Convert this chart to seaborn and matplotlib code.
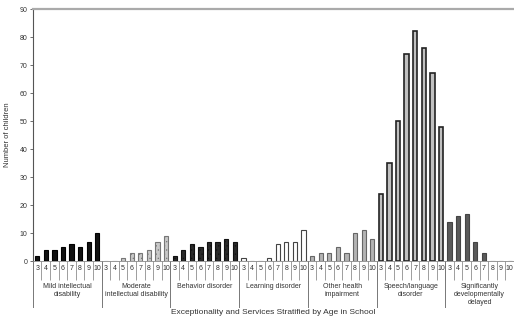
import pandas as pd
import seaborn as sns
import numpy as np
import matplotlib.pyplot as plt
from matplotlib.transforms import blended_transform_factory

ages = [3, 4, 5, 6, 7, 8, 9, 10]
groups = ['Mild intellectual\ndisability',
          'Moderate\nintellectual disability',
          'Behavior disorder',
          'Learning disorder',
          'Other health\nimpairment',
          'Speech/language\ndisorder',
          'Significantly\ndevelopmentally\ndelayed']

mild = [2, 4, 4, 5, 6, 5, 7, 10]
moderate = [0, 0, 1, 3, 3, 4, 7, 9]
behavior = [2, 4, 6, 5, 7, 7, 8, 7]
learning = [1, 0, 0, 1, 6, 7, 7, 11]
other_health = [2, 3, 3, 5, 3, 10, 11, 8]
speech = [24, 35, 50, 74, 82, 76, 67, 48]
delayed = [14, 16, 17, 7, 3, 0, 0, 0]

counts = [mild, moderate, behavior, learning, other_health, speech, delayed]

# look of each group (fill, edge, linewidth, hatch)
styles = [('#111111', '#000000', 0.8, None),
          ('#c8c8c8', '#777777', 0.8, '....'),
          ('#2a2a2a', '#111111', 0.8, '....'),
          ('#ffffff', '#444444', 0.8, None),
          ('#b4b4b4', '#666666', 0.8, None),
          ('#c0c0c0', '#222222', 1.2, None),
          ('#5a5a5a', '#444444', 0.8, None)]

rows = []
for g, vals in zip(groups, counts):
    for a, v in zip(ages, vals):
        rows.append({'group': g, 'age': a, 'slot': f'{g}|{a}', 'count': v})
df = pd.DataFrame(rows)

plt.rcParams['font.family'] = ['Liberation Sans', 'DejaVu Sans']
plt.rcParams['hatch.linewidth'] = 0.4

fig = plt.figure(figsize=(5.14, 3.24), dpi=100)
ax = fig.add_axes([0.064, 0.194, 0.936, 0.778])

sns.barplot(data=df, x='slot', y='count', hue='group', order=list(df['slot']),
            hue_order=groups, dodge=False, width=0.5, legend=False, ax=ax,
            palette=[s[0] for s in styles])

# restyle bars per group
for p in ax.patches:
    if p.get_width() == 0:
        continue
    idx = int(round(p.get_x() + p.get_width() / 2))
    if idx < 0 or idx >= len(df):
        continue
    fc, ec, lw, h = styles[idx // 8]
    p.set_facecolor(fc)
    p.set_edgecolor(ec)
    p.set_linewidth(lw)
    if h:
        p.set_hatch(h)

n = len(df)
ax.set_xlim(-0.5, n - 0.5)
ax.set_ylim(0, 90)
ax.set_yticks(range(0, 91, 10))
ax.tick_params(axis='y', labelsize=5, length=2, width=0.6, color='#555555',
               labelcolor='#333333', pad=2)

ax.set_xticks(range(n))
ax.set_xticklabels([str(a) for a in df['age']], fontsize=5, color='#333333')
ax.tick_params(axis='x', length=0, pad=3)
ax.set_xticks(np.arange(-0.5, n, 1), minor=True)
ax.tick_params(axis='x', which='minor', length=14, width=0.5, color='#777777')

ax.spines['right'].set_visible(False)
ax.spines['top'].set_color('#aaaaaa')
ax.spines['top'].set_linewidth(1.6)
ax.spines['left'].set_color('#555555')
ax.spines['left'].set_linewidth(0.8)
ax.spines['bottom'].set_color('#888888')
ax.spines['bottom'].set_linewidth(0.6)

trans = blended_transform_factory(ax.transData, ax.transAxes)
for k in range(len(groups) + 1):
    ax.plot([k * 8 - 0.5, k * 8 - 0.5], [0, -0.18], transform=trans,
            color='#777777', lw=0.7, clip_on=False)
for k, g in enumerate(groups):
    ax.text(k * 8 + 3.5, -0.088, g, transform=trans, ha='center', va='top',
            fontsize=5, color='#333333', linespacing=1.15)

ax.set_xlabel('Exceptionality and Services Stratified by Age in School',
              fontsize=6, color='#333333')
ax.xaxis.set_label_coords(0.5, -0.19)
ax.set_ylabel('Number of children', fontsize=5.5, color='#333333', labelpad=6)

fig.savefig('out.png', dpi=100)
